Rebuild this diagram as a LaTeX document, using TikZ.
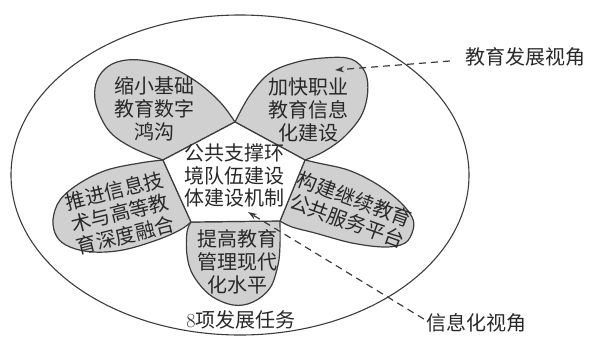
\documentclass[tikz,border=0pt]{standalone}
\usepackage{fontspec}
\newfontfamily\cjk{Noto Sans CJK SC}
\usetikzlibrary{arrows.meta}
\definecolor{petalfill}{RGB}{208,208,208}
\definecolor{linecol}{RGB}{60,60,60}
\definecolor{textcol}{RGB}{40,40,40}
\tikzset{
  outline/.style={draw=linecol, line width=1.2pt},
  petal/.style={outline, fill=petalfill, line join=round},
  lbl/.style={inner sep=0pt, align=center, text=textcol, font=\cjk\fontsize{20}{22.8}\selectfont},
  dasharrow/.style={draw=linecol, line width=1.2pt, dash pattern=on 7pt off 5pt,
    -{Stealth[length=9pt,width=6pt]}}
}
\begin{document}
\begin{tikzpicture}[x=1pt,y=-1pt]
\useasboundingbox (0,0) rectangle (589,338);
% outer ellipse
\draw[outline, line width=1.1pt] (240,175) ellipse [x radius=229, y radius=160];
% pentagon vertices
\coordinate (P1) at (235,122);
\coordinate (P2) at (305,160);
\coordinate (P3) at (280,221);
\coordinate (P4) at (191,222);
\coordinate (P5) at (163,160);
% petals
\draw[petal] plot[smooth, tension=0.6] coordinates {(235,122) (220,102) (197,82) (170,67) (140,60) (117,62) (102,72) (95,88) (97,108) (110,132) (133,148) (163,160)} -- cycle;
\draw[petal] plot[smooth, tension=0.6] coordinates {(235,122) (250,95) (270,73) (297,62) (323,58) (347,58) (360,65) (367,78) (367,98) (360,118) (343,138) (323,152) (305,160)} -- cycle;
\draw[petal] plot[smooth, tension=0.6] coordinates {(163,160) (140,163) (107,170) (80,183) (60,200) (53,220) (57,237) (70,247) (93,252) (123,250) (157,240) (180,230) (191,222)} -- cycle;
\draw[petal] plot[smooth, tension=0.6] coordinates {(305,160) (318,163) (348,170) (375,183) (398,200) (412,217) (413,230) (405,243) (385,247) (352,243) (315,233) (292,227) (280,221)} -- cycle;
\draw[petal] plot[smooth, tension=0.6] coordinates {(191,222) (187,232) (187,255) (193,275) (210,295) (233,305) (253,302) (270,288) (278,265) (280,245) (280,221)} -- cycle;
% pentagon
\draw[outline, fill=white, line join=round] (P1) -- (P2) -- (P3) -- (P4) -- (P5) -- cycle;
% texts
\node[lbl] (ul) at (154,109) {缩小基础\\教育数字\\鸿沟};
\node[lbl] (ur) at (308,110) {加快职业\\教育信息\\化建设};
\node[lbl] (ct) at (234,175.5) {公共支撑环\\境队伍建设\\体建设机制};
\node[lbl] (bt) at (237,262) {提高教育\\管理现代\\化水平};
\node[lbl, rotate=14] (lf) at (120,213) {推进信息技\\术与高等教\\育深度融合};
\node[lbl, rotate=-20] (rt) at (351,210) {构建继续教育\\公共服务平台};
\node[lbl] (tasks) at (241,320) {\textrm{8}项发展任务};
\node[lbl] (edu) at (525,57) {教育发展视角};
\node[lbl] (info) at (476,323) {信息化视角};
% arrows
\coordinate (a1) at (335,70);
\coordinate (a2) at (248,212);
\draw[dasharrow] (edu.west) ++(-15,4) coordinate (e1) -- (a1);
\draw[dasharrow] (info.west) ++(-2,-4) coordinate (i1) -- (a2);
\end{tikzpicture}
\end{document}
